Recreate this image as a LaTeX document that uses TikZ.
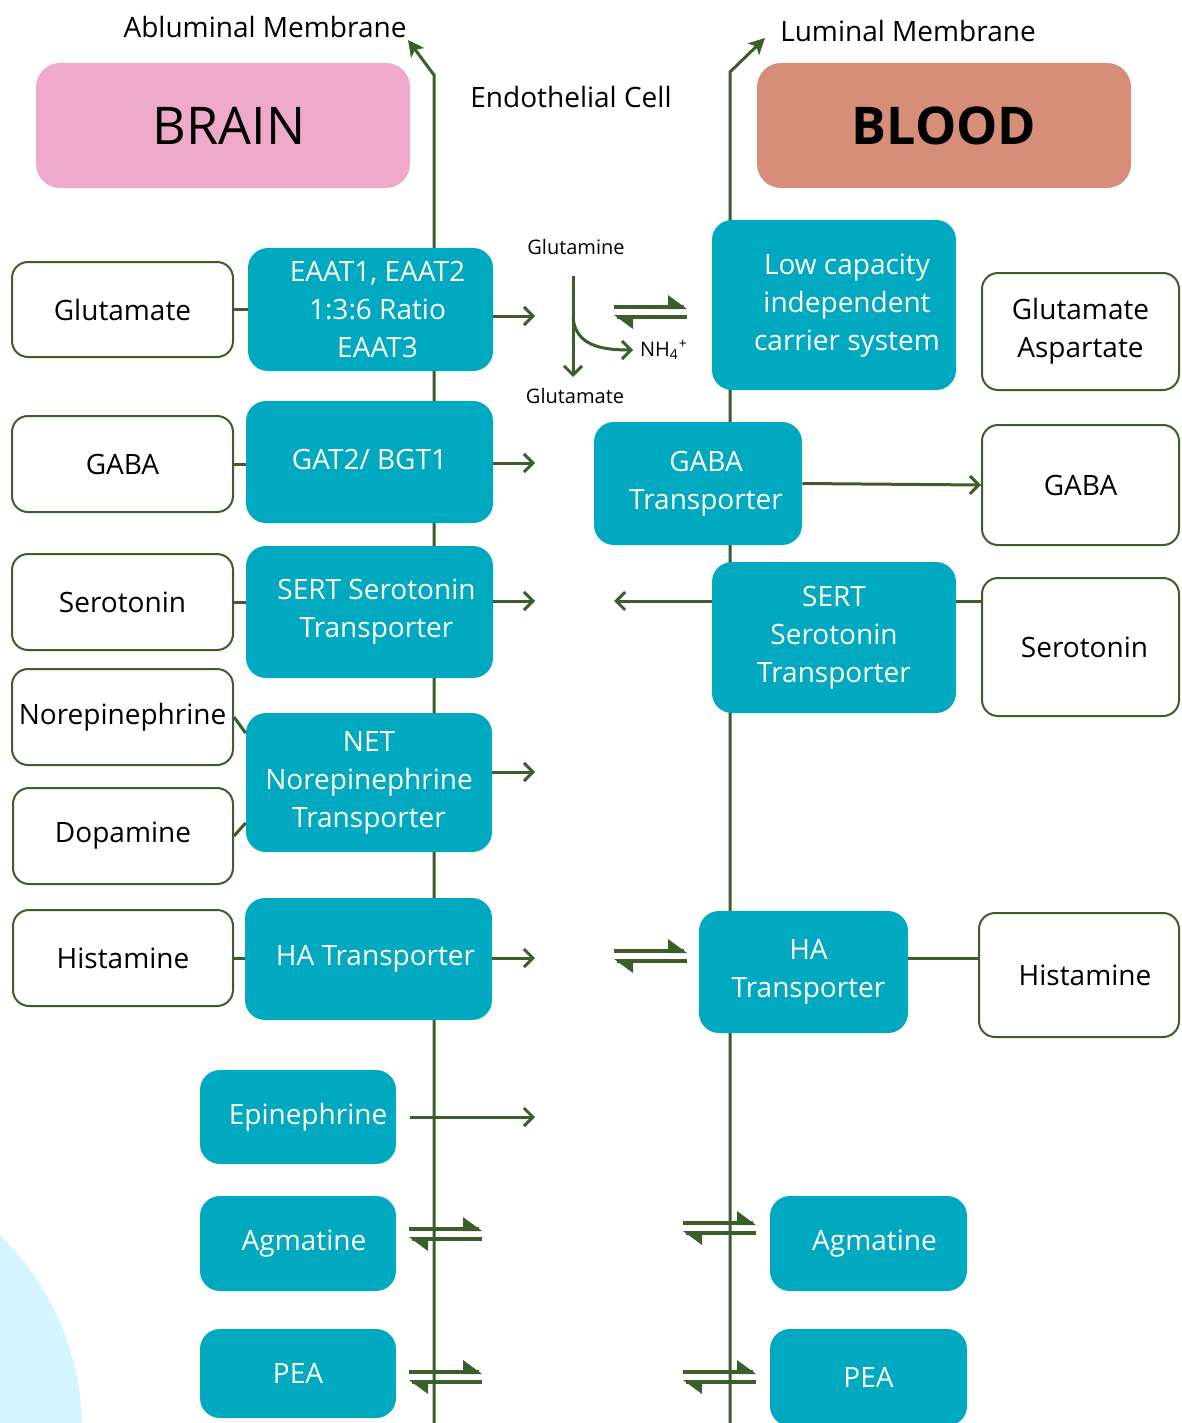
\documentclass[tikz,border=0pt]{standalone}
\usepackage{fontspec}
\setmainfont{Open Sans}
\usetikzlibrary{arrows.meta}
\definecolor{lineg}{HTML}{3C5E2B}
\definecolor{tealb}{HTML}{00A9BF}
\definecolor{pinkb}{HTML}{EEA9CB}
\definecolor{salm}{HTML}{D68E78}
\definecolor{lblue}{HTML}{D5F5FE}
\newcommand{\eqarr}[3]{%
  \draw[lineg,line width=2pt] (#1,#3-5) -- (#2-3,#3-5);
  \fill[lineg] (#2,#3-3) -- (#2-19,#3-17) -- (#2-19,#3-3) -- cycle;
  \draw[lineg,line width=2pt] (#1+3,#3+5) -- (#2,#3+5);
  \fill[lineg] (#1,#3+3) -- (#1+19,#3+17) -- (#1+19,#3+3) -- cycle;
}
% style, name, x1, y1, x2, y2, text
\newcommand{\bx}[7]{%
  \node[#1,minimum width={(#5-#3)*0.5pt},minimum height={(#6-#4)*0.5pt}] (#2) at ({(#3+#5)/2},{(#4+#6)/2}) {#7};}
\begin{document}
\begin{tikzpicture}[x=0.5pt,y=-0.5pt,
  txt/.style={font=\fontsize{14}{19}\selectfont},
  small/.style={font=\fontsize{10}{12}\selectfont},
  wbox/.style={draw=lineg,line width=1pt,fill=white,rounded corners=8pt,inner sep=0pt,align=center,txt},
  tbox/.style={fill=tealb,rounded corners=10pt,inner sep=0pt,align=center,text=white,txt},
  head/.style={inner sep=0pt,rounded corners=12pt,font=\fontsize{26}{30}\selectfont},
  conn/.style={draw=lineg,line width=1.5pt},
  arr/.style={conn,-{Straight Barb[length=4.5pt,width=9pt]}},
  mem/.style={draw=lineg,line width=1.5pt,-{Stealth[length=8pt,width=8pt,inset=2pt]}}]
\useasboundingbox (0,0) rectangle (1182,1423);
\clip (0,0) rectangle (1182,1423);
% background circle
\fill[lblue] (-190,1430) circle (272);
% membranes
\coordinate (abtop) at (408,40);
\coordinate (abbot) at (434,1430);
\coordinate (lutop) at (765,38);
\coordinate (lubot) at (730,1430);
\draw[mem] (abbot) -- (434,75) -- (abtop);
\draw[mem] (lubot) -- (730,72) -- (lutop);
% headers
\node[txt] (abl) at (265,27) {Abluminal Membrane};
\node[txt] (lum) at (908,31) {Luminal Membrane};
\node[txt] (endo) at (571,97) {Endothelial Cell};
\bx{head,fill=pinkb}{brain}{36}{63}{410}{188}{BRAIN\hspace*{-6pt}}
\bx{head,fill=salm,font=\fontsize{26}{30}\selectfont\bfseries}{blood}{757}{63}{1131}{188}{BLOOD}
% left white boxes
\bx{wbox}{glu}{12}{262}{233}{357}{Glutamate}
\bx{wbox}{gaba}{12}{416}{233}{512}{GABA}
\bx{wbox}{sero}{12}{554}{233}{650}{Serotonin}
\bx{wbox}{nor}{12}{669}{233}{765}{Norepinephrine}
\bx{wbox}{dop}{13}{788}{233}{884}{Dopamine}
\bx{wbox}{his}{13}{910}{233}{1006}{Histamine}
% left teal boxes
\bx{tbox}{eaat}{248}{248}{493}{371}{\hspace*{7pt}EAAT1, EAAT2\\\hspace*{7pt}1:3:6 Ratio\\\hspace*{7pt}EAAT3}
\bx{tbox}{gat}{246}{401}{493}{523}{\raisebox{3pt}{GAT2/ BGT1}}
\bx{tbox}{sert}{246}{546}{493}{678}{\hspace*{7pt}SERT Serotonin\\\hspace*{7pt}Transporter}
\bx{tbox}{net}{246}{713}{492}{852}{NET\\Norepinephrine\\Transporter}
\bx{tbox}{ha}{245}{898}{492}{1020}{\hspace*{7pt}HA Transporter}
\bx{tbox}{epi}{200}{1070}{396}{1164}{\hspace*{10pt}Epinephrine}
\bx{tbox}{agl}{200}{1196}{396}{1291}{\hspace*{6pt}Agmatine}
\bx{tbox}{peal}{200}{1329}{396}{1418}{PEA}
% right teal boxes
\bx{tbox}{low}{712}{220}{956}{390}{\raisebox{3pt}{\begin{tabular}{@{}c@{}}\hspace*{13pt}Low capacity\\\hspace*{13pt}independent\\\hspace*{13pt}carrier system\end{tabular}}}
\bx{tbox}{gabat}{594}{422}{802}{545}{\hspace*{8pt}GABA\\\hspace*{8pt}Transporter}
\bx{tbox}{sertr}{712}{562}{956}{713}{SERT\\Serotonin\\Transporter}
\bx{tbox}{har}{699}{911}{908}{1033}{\hspace*{5pt}HA\\\hspace*{5pt}Transporter}
\bx{tbox}{agr}{770}{1196}{967}{1291}{\hspace*{6pt}Agmatine}
\bx{tbox}{pear}{770}{1329}{967}{1426}{PEA}
% right white boxes
\bx{wbox}{gluasp}{982}{273}{1179}{390}{Glutamate\\Aspartate}
\bx{wbox}{gabar}{982}{425}{1179}{545}{GABA}
\bx{wbox}{seror}{982}{578}{1179}{716}{\hspace*{4pt}Serotonin}
\bx{wbox}{hisr}{979}{913}{1179}{1037}{\hspace*{6pt}Histamine}
% connectors left white -> teal
\draw[conn] (glu.east) -- (eaat.west |- glu.east);
\draw[conn] (gaba.east) -- (gat.west |- gaba.east);
\draw[conn] (sero.east) -- (sert.west |- sero.east);
\draw[conn] (nor.east) -- ([yshift=-8pt]net.west |- nor.east);
\draw[conn] (dop.east) -- ([yshift=6.5pt]net.west |- dop.east);
\draw[conn] (his.east) -- (ha.west |- his.east);
% arrows out of left teal boxes
\coordinate (e1) at (535,316);
\coordinate (e2) at (535,463);
\coordinate (e3) at (535,601);
\coordinate (e4) at (535,772);
\coordinate (e5) at (535,958);
\coordinate (e6) at (535,1117);
\draw[arr] (eaat.east |- e1) -- (e1);
\draw[arr] (gat.east |- e2) -- (e2);
\draw[arr] (sert.east |- e3) -- (e3);
\draw[arr] (net.east |- e4) -- (e4);
\draw[arr] (ha.east |- e5) -- (e5);
\draw[arr] ([xshift=7pt]epi.east |- e6) -- (e6);
% right side connectors
\coordinate (s1) at (614,601);
\draw[arr] (sertr.west |- s1) -- (s1);
\draw[conn] (sertr.east |- s1) -- (seror.west |- s1);
\draw[arr] (gabat.east) -- (gabar.west);
\coordinate (h1) at (0,958);
\draw[conn] (har.east |- h1) -- (hisr.west |- h1);
% glutamine reaction
\node[small] (gln) at (576,247) {Glutamine};
\node[small] (glt) at (575,396) {Glutamate};
\node[small,anchor=west] (nh) at (633,350) {NH\textsubscript{4}\textsuperscript{+}};
\coordinate (gtop) at (573,276);
\coordinate (gbot) at (573,377);
\draw[arr] (gtop) -- (gbot);
\draw[arr] (573,318) .. controls (576,345) and (600,350) .. (nh.west);
% equilibrium arrows
\eqarr{614}{687}{312}
\eqarr{614}{687}{956}
\eqarr{409}{482}{1234}
\eqarr{409}{482}{1377}
\eqarr{683}{756}{1228}
\eqarr{683}{756}{1377}
\end{tikzpicture}
\end{document}
